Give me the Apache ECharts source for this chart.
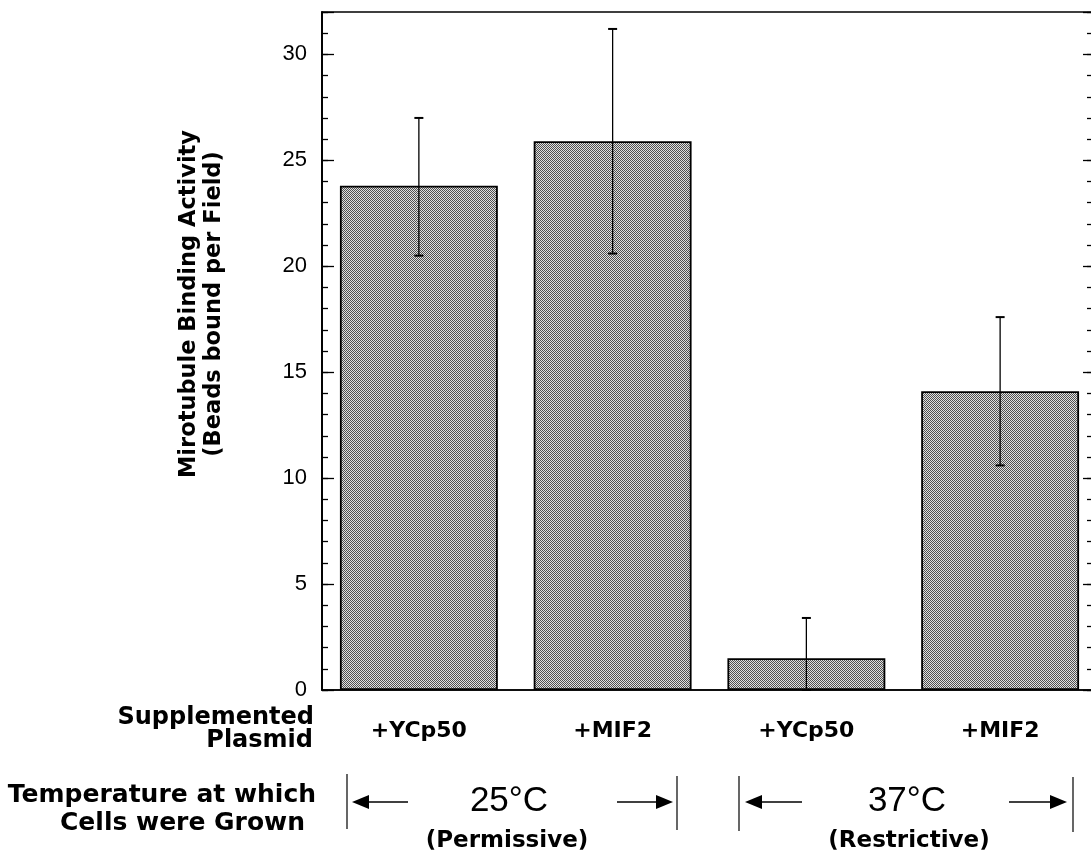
<!DOCTYPE html>
<html>
<head>
<meta charset="utf-8">
<script src="https://cdn.jsdelivr.net/npm/echarts@6/dist/echarts.min.js"></script>
<style>
  html, body { margin: 0; padding: 0; background: #fff; }
  #chart { width: 1091px; height: 859px; }
</style>
</head>
<body>
<div id="chart"></div>
<script>
// Plasmid supplemented in each culture
const categories = ['+YCp50', '+MIF2', '+YCp50', '+MIF2'];
// Mean beads bound per field
const meanValues = [23.8, 25.9, 1.5, 14.1];
// Error bar ends (upper / lower)
const errHigh = [27.0, 31.2, 3.4, 17.6];
const errLow = [20.5, 20.6, 0, 10.6];
// Value axis
const yMin = 0;
const yMax = 32;
const yMajor = 5;
const yMinor = 1;

const BOLD = '"DejaVu Sans", "Liberation Sans", Arial, sans-serif';
const REG = '"Liberation Sans", Arial, Helvetica, sans-serif';

// dithered grey fill for the bars
function makeDither() {
  const c = document.createElement('canvas');
  c.width = 2; c.height = 2;
  const g = c.getContext('2d');
  g.fillStyle = '#e0e0e0'; g.fillRect(0, 0, 2, 2);
  g.fillStyle = '#505050'; g.fillRect(0, 0, 1, 1); g.fillRect(1, 1, 1, 1);
  return c;
}

const chart = echarts.init(document.getElementById('chart'), null, { renderer: 'canvas' });

const errData = categories.map((c, i) => [i, errLow[i], errHigh[i]]);

function arrow(x1, x2, y) {
  // shaft from x1 to x2, filled head pointing at x2
  const dir = x2 > x1 ? 1 : -1;
  const headLen = 17, headHalf = 7;
  const base = x2 - dir * headLen;
  return [
    { type: 'line', shape: { x1: x1, y1: y, x2: base, y2: y }, style: { stroke: '#000', lineWidth: 1.6 } },
    { type: 'polygon', shape: { points: [[x2, y], [base, y - headHalf], [base, y + headHalf]] }, style: { fill: '#000' } }
  ];
}
function vbar(x, y1, y2) {
  return { type: 'line', shape: { x1: x, y1: y1, x2: x, y2: y2 }, style: { stroke: '#000', lineWidth: 1.2 } };
}
function txt(text, x, y, font, size, weight, align) {
  return {
    type: 'text', x: x, y: y,
    style: { text: text, fill: '#000', font: weight + ' ' + size + 'px ' + font, align: align || 'center', verticalAlign: 'middle' }
  };
}

const graphics = [
  // value axis title
  {
    type: 'text', x: 202, y: 304, rotation: Math.PI / 2,
    style: {
      text: 'Mirotubule Binding Activity\n(Beads bound per Field)',
      fill: '#000', font: 'bold 22.5px ' + BOLD, align: 'center', verticalAlign: 'middle', lineHeight: 25
    }
  },
  txt('Supplemented', 314, 718, BOLD, 24, 'bold', 'right'),
  txt('Plasmid', 313, 741, BOLD, 24, 'bold', 'right'),
  txt('Temperature at which', 316, 795, BOLD, 25, 'bold', 'right'),
  txt('Cells were Grown', 305, 823, BOLD, 25, 'bold', 'right'),
  // 25 °C group
  vbar(347, 774, 829),
  ...arrow(408, 352, 802),
  txt('25°C', 509, 801, REG, 35, 'normal'),
  ...arrow(617, 673, 802),
  vbar(677, 776, 830),
  txt('(Permissive)', 507, 841, BOLD, 23, 'bold'),
  // 37 °C group
  vbar(739, 776, 831),
  ...arrow(802, 745, 802),
  txt('37°C', 907, 801, REG, 35, 'normal'),
  ...arrow(1009, 1067, 802),
  vbar(1073, 777, 832),
  txt('(Restrictive)', 909, 841, BOLD, 23, 'bold')
];

function yAxisDef(pos, interval, len, showLabel, offset) {
  return {
    type: 'value', position: pos, min: yMin, max: yMax, interval: interval,
    offset: offset || 0,
    axisLine: { show: pos === 'left', lineStyle: { color: '#000', width: 1.5 } },
    axisTick: { show: true, inside: true, length: len, lineStyle: { color: '#000', width: 1.3 } },
    splitLine: { show: false },
    axisLabel: showLabel ? {
      show: true, margin: 15, color: '#000', fontFamily: REG, fontSize: 22,
      formatter: v => (v % yMajor === 0 ? String(v) : '')
    } : { show: false }
  };
}

chart.setOption({
  animation: false,
  backgroundColor: '#fff',
  grid: {
    left: 322, width: 775, top: 12, bottom: 169,
    outerBoundsMode: 'none', containLabel: false,
    show: true, borderColor: '#000', borderWidth: 1.5, backgroundColor: 'transparent'
  },
  xAxis: {
    type: 'category', data: categories,
    axisLine: { show: true, lineStyle: { color: '#000', width: 1.5 } },
    axisTick: { show: false },
    axisLabel: { margin: 30, color: '#000', fontFamily: BOLD, fontWeight: 'bold', fontSize: 22, interval: 0 }
  },
  yAxis: [
    yAxisDef('left', yMajor, 12, true),
    yAxisDef('left', yMinor, 6, false),
    yAxisDef('right', yMajor, 8, false, -6),
    yAxisDef('right', yMinor, 4, false, -6)
  ],
  series: [
    {
      type: 'bar', data: meanValues, barWidth: '81.5%', yAxisIndex: 0,
      itemStyle: {
        color: { image: makeDither(), repeat: 'repeat' },
        borderColor: '#000', borderWidth: 1.8
      }
    },
    {
      type: 'custom', data: errData, yAxisIndex: 0, z: 5,
      encode: { x: 0, y: [1, 2] },
      renderItem: function (params, api) {
        const i = api.value(0);
        const lo = api.coord([i, api.value(1)]);
        const hi = api.coord([i, api.value(2)]);
        const cap = 4.5;
        return {
          type: 'group',
          children: [
            { type: 'line', shape: { x1: hi[0], y1: hi[1], x2: lo[0], y2: lo[1] }, style: { stroke: '#000', lineWidth: 1.3 } },
            { type: 'line', shape: { x1: hi[0] - cap, y1: hi[1], x2: hi[0] + cap, y2: hi[1] }, style: { stroke: '#000', lineWidth: 2 } },
            { type: 'line', shape: { x1: lo[0] - cap, y1: lo[1], x2: lo[0] + cap, y2: lo[1] }, style: { stroke: '#000', lineWidth: 2 } }
          ]
        };
      }
    }
  ],
  graphic: graphics
});
</script>
</body>
</html>
